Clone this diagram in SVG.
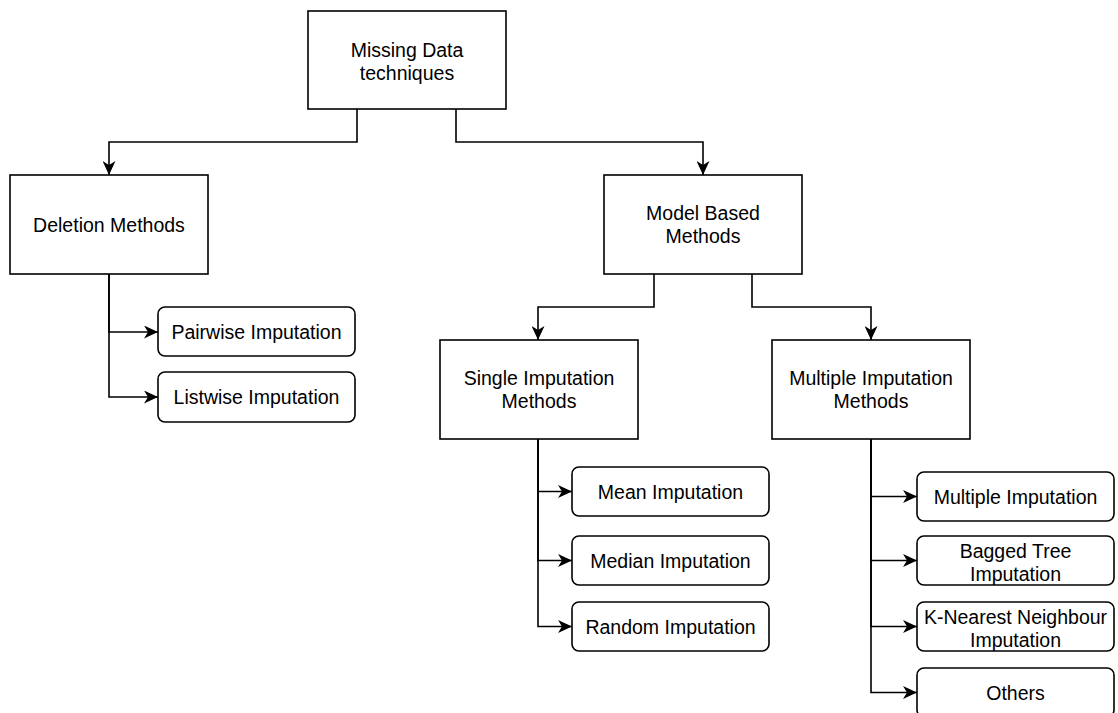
<svg xmlns="http://www.w3.org/2000/svg" width="1118" height="713" viewBox="0 0 1118 713">
<defs>
<style>
.box{fill:#fff;stroke:#000;stroke-width:1.6}
.t{font-family:"Liberation Sans",Arial,Helvetica,sans-serif;font-size:19.5px;fill:#000;text-anchor:middle}
.c{fill:none;stroke:#000;stroke-width:1.6}
</style>
<marker id="arr" markerUnits="userSpaceOnUse" markerWidth="15" markerHeight="13" refX="14" refY="6.5" orient="auto">
<path d="M0,0 L14,6.5 L0,13 L4,6.5 Z" fill="#000"/>
</marker>
</defs>
<rect width="1118" height="713" fill="#fff"/>
<g id="connectors">
<path class="c" d="M357,109 V142 H109 V175" marker-end="url(#arr)"/>
<path class="c" d="M456,109 V142 H703 V175" marker-end="url(#arr)"/>
<path class="c" d="M109,274 V332 H158" marker-end="url(#arr)"/>
<path class="c" d="M109,274 V397 H158" marker-end="url(#arr)"/>
<path class="c" d="M654,274 V307 H538 V340" marker-end="url(#arr)"/>
<path class="c" d="M752,274 V307 H871 V340" marker-end="url(#arr)"/>
<path class="c" d="M538,439 V491.5 H572" marker-end="url(#arr)"/>
<path class="c" d="M538,439 V560.5 H572" marker-end="url(#arr)"/>
<path class="c" d="M538,439 V626.5 H572" marker-end="url(#arr)"/>
<path class="c" d="M871,439 V496.5 H917" marker-end="url(#arr)"/>
<path class="c" d="M871,439 V560.5 H917" marker-end="url(#arr)"/>
<path class="c" d="M871,439 V626.5 H917" marker-end="url(#arr)"/>
<path class="c" d="M871,439 V692.5 H917" marker-end="url(#arr)"/>
</g>
<g id="root">
<rect class="box" x="308" y="11" width="198" height="98"/>
<text class="t" x="407" y="57">Missing Data</text>
<text class="t" x="407" y="80">techniques</text>
</g>
<g id="deletion">
<rect class="box" x="10" y="175" width="198" height="99"/>
<text class="t" x="109" y="232">Deletion Methods</text>
</g>
<g id="model">
<rect class="box" x="604" y="175" width="198" height="99"/>
<text class="t" x="703" y="220">Model Based</text>
<text class="t" x="703" y="243">Methods</text>
</g>
<g id="pairwise">
<rect class="box" x="158" y="307" width="197" height="49" rx="7"/>
<text class="t" x="256.5" y="339">Pairwise Imputation</text>
</g>
<g id="listwise">
<rect class="box" x="158" y="372" width="197" height="50" rx="7"/>
<text class="t" x="256.5" y="404">Listwise Imputation</text>
</g>
<g id="single">
<rect class="box" x="440" y="340" width="198" height="99"/>
<text class="t" x="539" y="385">Single Imputation</text>
<text class="t" x="539" y="408">Methods</text>
</g>
<g id="multiple">
<rect class="box" x="772" y="340" width="198" height="99"/>
<text class="t" x="871" y="385">Multiple Imputation</text>
<text class="t" x="871" y="408">Methods</text>
</g>
<g id="mean">
<rect class="box" x="572" y="467" width="197" height="49" rx="7"/>
<text class="t" x="670.5" y="498.5">Mean Imputation</text>
</g>
<g id="median">
<rect class="box" x="572" y="536" width="197" height="49" rx="7"/>
<text class="t" x="670.5" y="567.5">Median Imputation</text>
</g>
<g id="random">
<rect class="box" x="572" y="602" width="197" height="49" rx="7"/>
<text class="t" x="670.5" y="633.5">Random Imputation</text>
</g>
<g id="multimp">
<rect class="box" x="917" y="472" width="197" height="49" rx="7"/>
<text class="t" x="1015.5" y="503.5">Multiple Imputation</text>
</g>
<g id="bagged">
<rect class="box" x="917" y="536" width="197" height="49" rx="7"/>
<text class="t" x="1015.5" y="558">Bagged Tree</text>
<text class="t" x="1015.5" y="580.5">Imputation</text>
</g>
<g id="knn">
<rect class="box" x="917" y="602" width="197" height="49" rx="7"/>
<text class="t" x="1015.5" y="624">K-Nearest Neighbour</text>
<text class="t" x="1015.5" y="646.5">Imputation</text>
</g>
<g id="others">
<rect class="box" x="917" y="668" width="197" height="49" rx="7"/>
<text class="t" x="1015.5" y="700">Others</text>
</g>
</svg>
